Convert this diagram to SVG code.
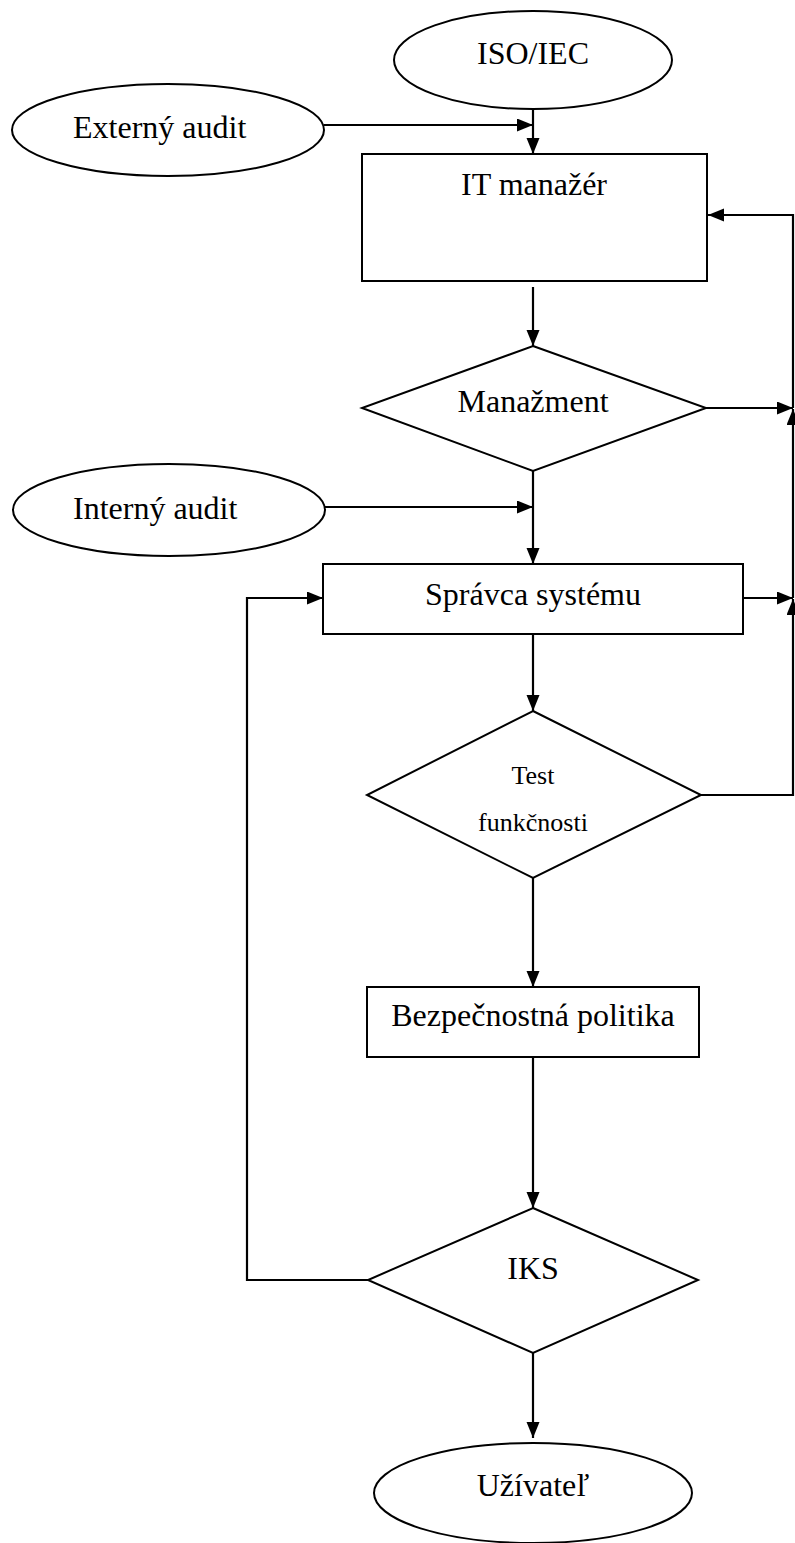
<svg xmlns="http://www.w3.org/2000/svg" width="795" height="1543" viewBox="0 0 795 1543">
<style>
.n{fill:#fff;stroke:#000;stroke-width:2}
.t{font-family:"Liberation Serif","Times New Roman",serif;font-size:32px;fill:#000}
.s{font-size:26px}
.m{text-anchor:middle}
.c{fill:none;stroke:#000;stroke-width:2.2}
</style>
<defs>
<marker id="a" markerUnits="userSpaceOnUse" markerWidth="17" markerHeight="14" refX="16" refY="6.5" orient="auto">
<path d="M0,0 L16,6.5 L0,13 z" fill="#000"/>
</marker>
</defs>
<g id="connectors">
<path class="c" d="M533,109 V154" marker-end="url(#a)"/>
<path class="c" d="M324,125 H533" marker-end="url(#a)"/>
<path class="c" d="M533,287 V346" marker-end="url(#a)"/>
<path class="c" d="M706,408 H793" marker-end="url(#a)"/>
<path class="c" d="M533,471 V564" marker-end="url(#a)"/>
<path class="c" d="M325,507 H533" marker-end="url(#a)"/>
<path class="c" d="M743,598 H793" marker-end="url(#a)"/>
<path class="c" d="M533,634 V711" marker-end="url(#a)"/>
<path class="c" d="M701,795 H793 V599" marker-end="url(#a)"/>
<path class="c" d="M793,598 V409" marker-end="url(#a)"/>
<path class="c" d="M793,408 V215 H708" marker-end="url(#a)"/>
<path class="c" d="M533,878 V987" marker-end="url(#a)"/>
<path class="c" d="M533,1057 V1208" marker-end="url(#a)"/>
<path class="c" d="M368,1280 H247 V598 H323" marker-end="url(#a)"/>
<path class="c" d="M533,1353 V1438" marker-end="url(#a)"/>
</g>
<g id="iso">
<ellipse class="n" cx="533" cy="60" rx="139" ry="49"/>
<text class="t m" x="533" y="64">ISO/IEC</text>
</g>
<g id="externy">
<ellipse class="n" cx="168" cy="130" rx="156" ry="46"/>
<text class="t" x="73" y="138">Externý audit</text>
</g>
<g id="it">
<rect class="n" x="362" y="154" width="345" height="127"/>
<text class="t m" x="534" y="195">IT manažér</text>
</g>
<g id="manazment">
<polygon class="n" points="533,346 706,408 533,471 362,408"/>
<text class="t m" x="533" y="412">Manažment</text>
</g>
<g id="interny">
<ellipse class="n" cx="169" cy="510" rx="156" ry="46"/>
<text class="t" x="73" y="519">Interný audit</text>
</g>
<g id="spravca">
<rect class="n" x="323" y="564" width="420" height="70"/>
<text class="t m" x="533" y="605">Správca systému</text>
</g>
<g id="test">
<polygon class="n" points="533,711 701,795 533,878 367,795"/>
<text class="t s m" x="533" y="784">Test</text>
<text class="t s m" x="533" y="831">funkčnosti</text>
</g>
<g id="bezpecnost">
<rect class="n" x="367" y="987" width="332" height="70"/>
<text class="t m" x="533" y="1026">Bezpečnostná politika</text>
</g>
<g id="iks">
<polygon class="n" points="533,1208 698,1280 533,1353 368,1280"/>
<text class="t m" x="533" y="1279">IKS</text>
</g>
<g id="uzivatel">
<ellipse class="n" cx="533" cy="1493" rx="159" ry="50"/>
<text class="t m" x="533" y="1496">Užívateľ</text>
</g>
</svg>
